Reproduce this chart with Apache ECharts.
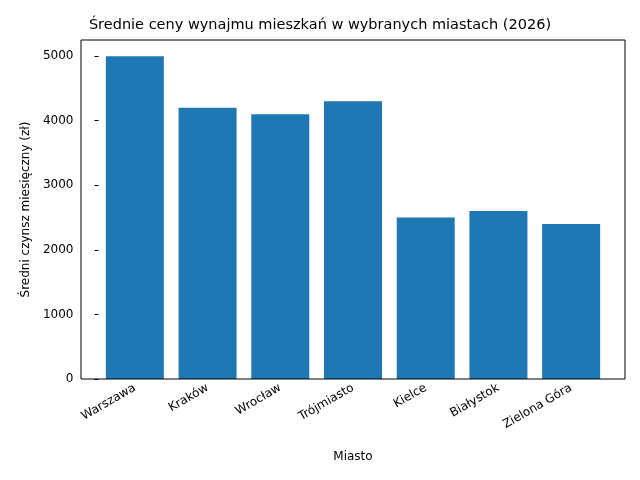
<!DOCTYPE html>
<html><head><meta charset="utf-8">
<script src="https://cdn.jsdelivr.net/npm/echarts@6/dist/echarts.min.js"></script>
<style>html,body{margin:0;padding:0;background:#fff}#c{width:640px;height:480px}</style>
</head><body><div id="c"></div>
<script>
const categories = ['Warszawa','Kraków','Wrocław','Trójmiasto','Kielce','Białystok','Zielona Góra'];
const values = [5000,4200,4100,4300,2500,2600,2400];
const yTicks = [0,1000,2000,3000,4000,5000];
const font = 'DejaVu Sans';
const chart = echarts.init(document.getElementById('c'));
chart.setOption({
  animation:false,
  title:{text:'Średnie ceny wynajmu mieszkań w wybranych miastach (2026)',left:'center',top:13,textStyle:{fontFamily:font,fontSize:14.5,fontWeight:'normal',color:'#000'}},
  grid:[
    {left:98.5,right:32.5,top:40,bottom:101},
    {left:81,right:15,top:40,bottom:101,show:true,borderColor:'#000',borderWidth:1,z:10}
  ],
  xAxis:[
    {type:'category',data:categories,gridIndex:0,
     axisLine:{show:false},axisTick:{alignWithLabel:true,length:4,lineStyle:{color:'#000'}},
     axisLabel:{rotate:30,color:'#000',fontFamily:font,fontSize:12,margin:8},
     name:'Miasto',nameLocation:'middle',nameGap:72,nameTextStyle:{fontFamily:font,fontSize:12,color:'#000'}},
    {type:'value',gridIndex:1,show:false,min:0,max:1}
  ],
  yAxis:[
    {type:'value',gridIndex:0,min:0,max:5250,interval:1000,
     axisLine:{show:false},axisTick:{show:true,length:4,lineStyle:{color:'#000'}},splitLine:{show:false},
     axisLabel:{color:'#000',fontFamily:font,fontSize:12,margin:25,showMaxLabel:false,
       formatter:v=>yTicks.includes(v)?String(v):''},
     name:'Średni czynsz miesięczny (zł)',nameLocation:'middle',nameGap:58,nameTextStyle:{fontFamily:font,fontSize:12,color:'#000'}},
    {type:'value',gridIndex:1,show:false,min:0,max:1}
  ],
  series:[{type:'bar',data:values,barWidth:58,itemStyle:{color:'#1f77b4'},xAxisIndex:0,yAxisIndex:0}]
});
</script></body></html>
